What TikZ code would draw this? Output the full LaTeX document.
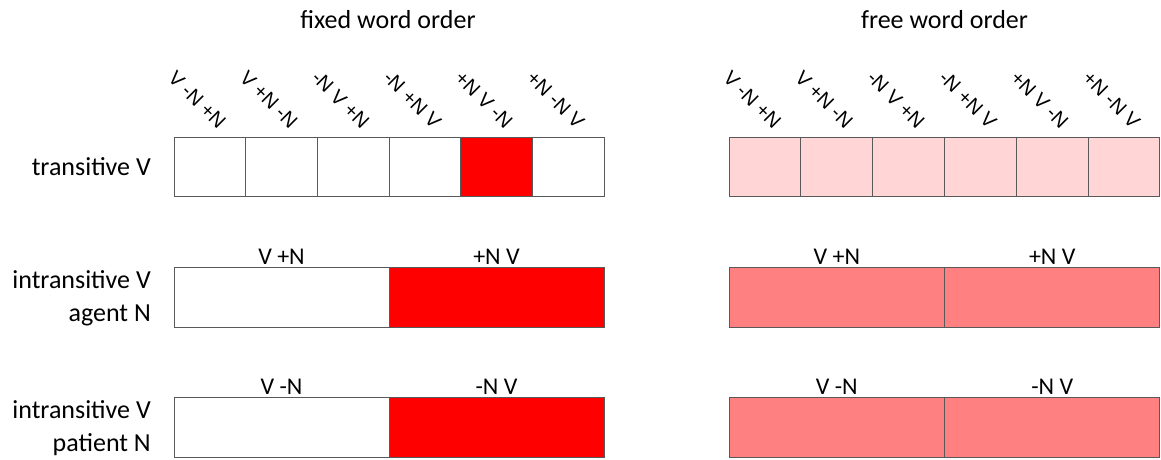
\documentclass[tikz,border=0pt]{standalone}
\usepackage{fontspec}
\setmainfont{Carlito}
\newfontfamily\orderfont{Liberation Sans}

\definecolor{lightpink}{RGB}{255,213,213}
\definecolor{midpink}{RGB}{255,128,128}

\tikzset{
  cell/.style={draw=black!65, line width=0.9pt, inner sep=0pt, outer sep=0pt},
  sixcell/.style={cell, minimum width=71.67pt, minimum height=59pt},
  halfcell/.style={cell, minimum width=215pt, minimum height=60pt},
  titlelabel/.style={font=\fontsize{26}{30}\selectfont, anchor=base, inner sep=0pt},
  rowlabel/.style={font=\fontsize{26}{33}\selectfont, align=right, anchor=east, inner sep=0pt},
  orderlabel/.style={font=\orderfont\fontsize{20}{22}\selectfont, rotate=-45, anchor=base east, inner sep=0pt},
  halflabel/.style={font=\fontsize{24}{26}\selectfont, anchor=base, inner sep=0pt}
}

\begin{document}
\begin{tikzpicture}[x=1pt, y=-1pt]
    \useasboundingbox (0,0) rectangle (1161,459);

    % Column titles
    \node[titlelabel] (fixedtitle) at (388,28) {fixed word order};
    \node[titlelabel] (freetitle) at (944.5,28) {free word order};

    % Row labels
    \node[rowlabel] (translabel) at (151,166.5) {transitive V};
    \node[rowlabel] (agentlabel) at (151,298) {intransitive V\\agent N};
    \node[rowlabel] (patientlabel) at (151,428) {intransitive V\\patient N};

    % Transitive V, fixed word order
    \foreach \lab/\col [count=\i] in {V -N +N/white, V +N -N/white, -N V +N/white, -N +N V/white, +N V -N/red, +N -N V/white} {
        \node[sixcell, fill=\col] (fixT\i) at ({174+(\i-0.5)*71.67},166.5) {};
        \node[orderlabel] (fixTlab\i) at ([shift={(8,-7)}]fixT\i.north) {\lab};
    }

    % Transitive V, free word order
    \foreach \lab [count=\i] in {V -N +N, V +N -N, -N V +N, -N +N V, +N V -N, +N -N V} {
        \node[sixcell, fill=lightpink] (freeT\i) at ({729+(\i-0.5)*71.83},166.5) {};
        \node[orderlabel] (freeTlab\i) at ([shift={(8,-7)}]freeT\i.north) {\lab};
    }

    % Intransitive V with agent N
    \node[halfcell, fill=white] (fixA1) at (281.5,297) {};
    \node[halfcell, fill=red] (fixA2) at (496.5,297) {};
    \node[halfcell, fill=midpink] (freeA1) at (836.75,297) {};
    \node[halfcell, fill=midpink] (freeA2) at (1052.25,297) {};
    \node[halflabel] (fixAlab1) at ([shift={(0,-3)}]fixA1.north) {V +N};
    \node[halflabel] (fixAlab2) at ([shift={(0,-3)}]fixA2.north) {+N V};
    \node[halflabel] (freeAlab1) at ([shift={(0,-3)}]freeA1.north) {V +N};
    \node[halflabel] (freeAlab2) at ([shift={(0,-3)}]freeA2.north) {+N V};

    % Intransitive V with patient N
    \node[halfcell, fill=white] (fixP1) at (281.5,427) {};
    \node[halfcell, fill=red] (fixP2) at (496.5,427) {};
    \node[halfcell, fill=midpink] (freeP1) at (836.75,427) {};
    \node[halfcell, fill=midpink] (freeP2) at (1052.25,427) {};
    \node[halflabel] (fixPlab1) at ([shift={(0,-3)}]fixP1.north) {V -N};
    \node[halflabel] (fixPlab2) at ([shift={(0,-3)}]fixP2.north) {-N V};
    \node[halflabel] (freePlab1) at ([shift={(0,-3)}]freeP1.north) {V -N};
    \node[halflabel] (freePlab2) at ([shift={(0,-3)}]freeP2.north) {-N V};
\end{tikzpicture}
\end{document}
